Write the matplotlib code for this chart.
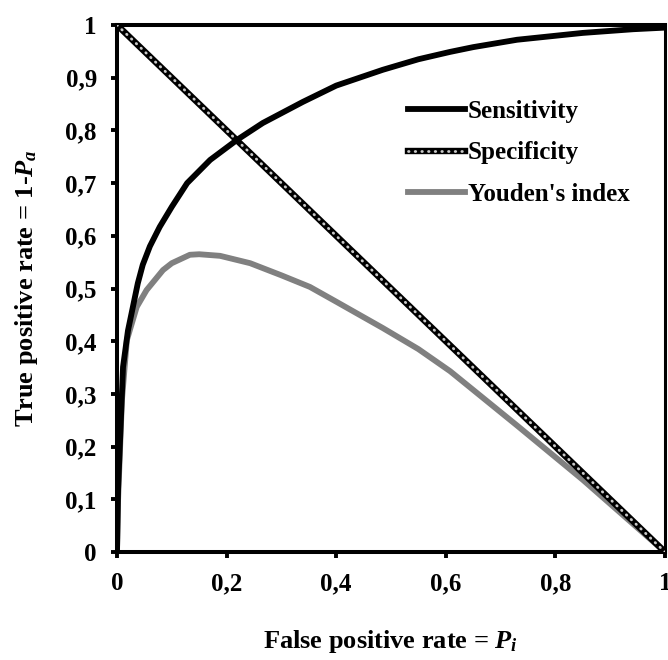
import numpy as np
import matplotlib
matplotlib.use("Agg")
import matplotlib.pyplot as plt
from matplotlib.lines import Line2D
from matplotlib.legend_handler import HandlerTuple

plt.rcParams['font.family'] = ['Liberation Serif', 'DejaVu Serif']
plt.rcParams['font.weight'] = 'bold'
plt.rcParams['axes.labelweight'] = 'bold'
plt.rcParams['mathtext.fontset'] = 'custom'
plt.rcParams['mathtext.rm'] = 'Liberation Serif:bold'
plt.rcParams['mathtext.it'] = 'Liberation Serif:bold:italic'
plt.rcParams['mathtext.bf'] = 'Liberation Serif:bold'

# values
fpr_sens = [0.0, 0.002, 0.011, 0.02, 0.029, 0.038, 0.047, 0.06, 0.078, 0.10, 0.128, 0.170,
            0.219, 0.266, 0.339, 0.40, 0.485, 0.55, 0.608, 0.65, 0.730, 0.850, 0.942, 1.0]
sensitivity = [0.0, 0.12, 0.351, 0.42, 0.465, 0.51, 0.545, 0.58, 0.617, 0.655, 0.700, 0.744,
               0.782, 0.814, 0.854, 0.885, 0.915, 0.935, 0.949, 0.958, 0.972, 0.985, 0.992, 0.995]

fpr_spec = [0.0, 1.0]
specificity = [1.0, 0.0]

fpr_youden = [0.0, 0.002, 0.009, 0.018, 0.036, 0.054, 0.084, 0.10, 0.133, 0.15, 0.188,
              0.243, 0.30, 0.352, 0.40, 0.485, 0.55, 0.608, 0.730, 0.850, 1.0]
youden = [0.0, 0.099, 0.288, 0.402, 0.465, 0.497, 0.535, 0.548, 0.564, 0.565, 0.562,
          0.548, 0.525, 0.503, 0.475, 0.425, 0.385, 0.343, 0.240, 0.137, 0.0]

ticks = [0, 0.2, 0.4, 0.6, 0.8, 1]
yticks = [0, 0.1, 0.2, 0.3, 0.4, 0.5, 0.6, 0.7, 0.8, 0.9, 1]


def comma(v):
    return ('%g' % v).replace('.', ',')


fig = plt.figure(figsize=(6.68, 6.60), dpi=100)
ax = fig.add_axes([117 / 668, 1 - 552 / 660, 548 / 668, 527 / 660])

dots = dict(color='#c8c8c8', lw=2.0, linestyle=(0, (0.2, 2.2)), dash_capstyle='round')

ax.plot(fpr_spec, specificity, color='black', lw=4.6, solid_capstyle='butt', zorder=3)
ax.plot(fpr_spec, specificity, zorder=3.1, **dots)
ax.plot(fpr_youden, youden, color='#808080', lw=4.2, solid_joinstyle='round', zorder=2)
ax.plot(fpr_sens, sensitivity, color='black', lw=4.2, solid_joinstyle='round', zorder=4)

ax.set_xlim(0, 1)
ax.set_ylim(0, 1)
ax.set_xticks(ticks)
ax.set_xticklabels([comma(t) for t in ticks])
ax.set_yticks(yticks)
ax.set_yticklabels([comma(t) for t in yticks])
ax.tick_params(direction='out', length=4.5, width=2.8, labelsize=18, pad=10)
for s in ax.spines.values():
    s.set_linewidth(2.9)
ax.spines['right'].set_linewidth(2.2)

ax.set_xlabel(r'False positive rate = $P_i$', fontsize=19, labelpad=24)
ax.set_ylabel(r'True positive rate = 1-$P_a$', fontsize=19, labelpad=18)

h_sens = Line2D([], [], color='black', lw=4.2)
h_spec_bg = Line2D([], [], color='black', lw=4.6)
h_spec_fg = Line2D([], [], **dots)
h_you = Line2D([], [], color='#808080', lw=4.2)
ax.legend([h_sens, (h_spec_bg, h_spec_fg), h_you],
          ['Sensitivity', 'Specificity', "Youden's index"],
          handler_map={tuple: HandlerTuple(ndivide=1, pad=0)},
          loc='upper left', bbox_to_anchor=(0.508, 0.882), frameon=False,
          prop={'size': 18, 'weight': 'bold'}, handlelength=2.3, handletextpad=0.1,
          labelspacing=0.75, borderpad=0)

fig.savefig('out.png', dpi=100)
